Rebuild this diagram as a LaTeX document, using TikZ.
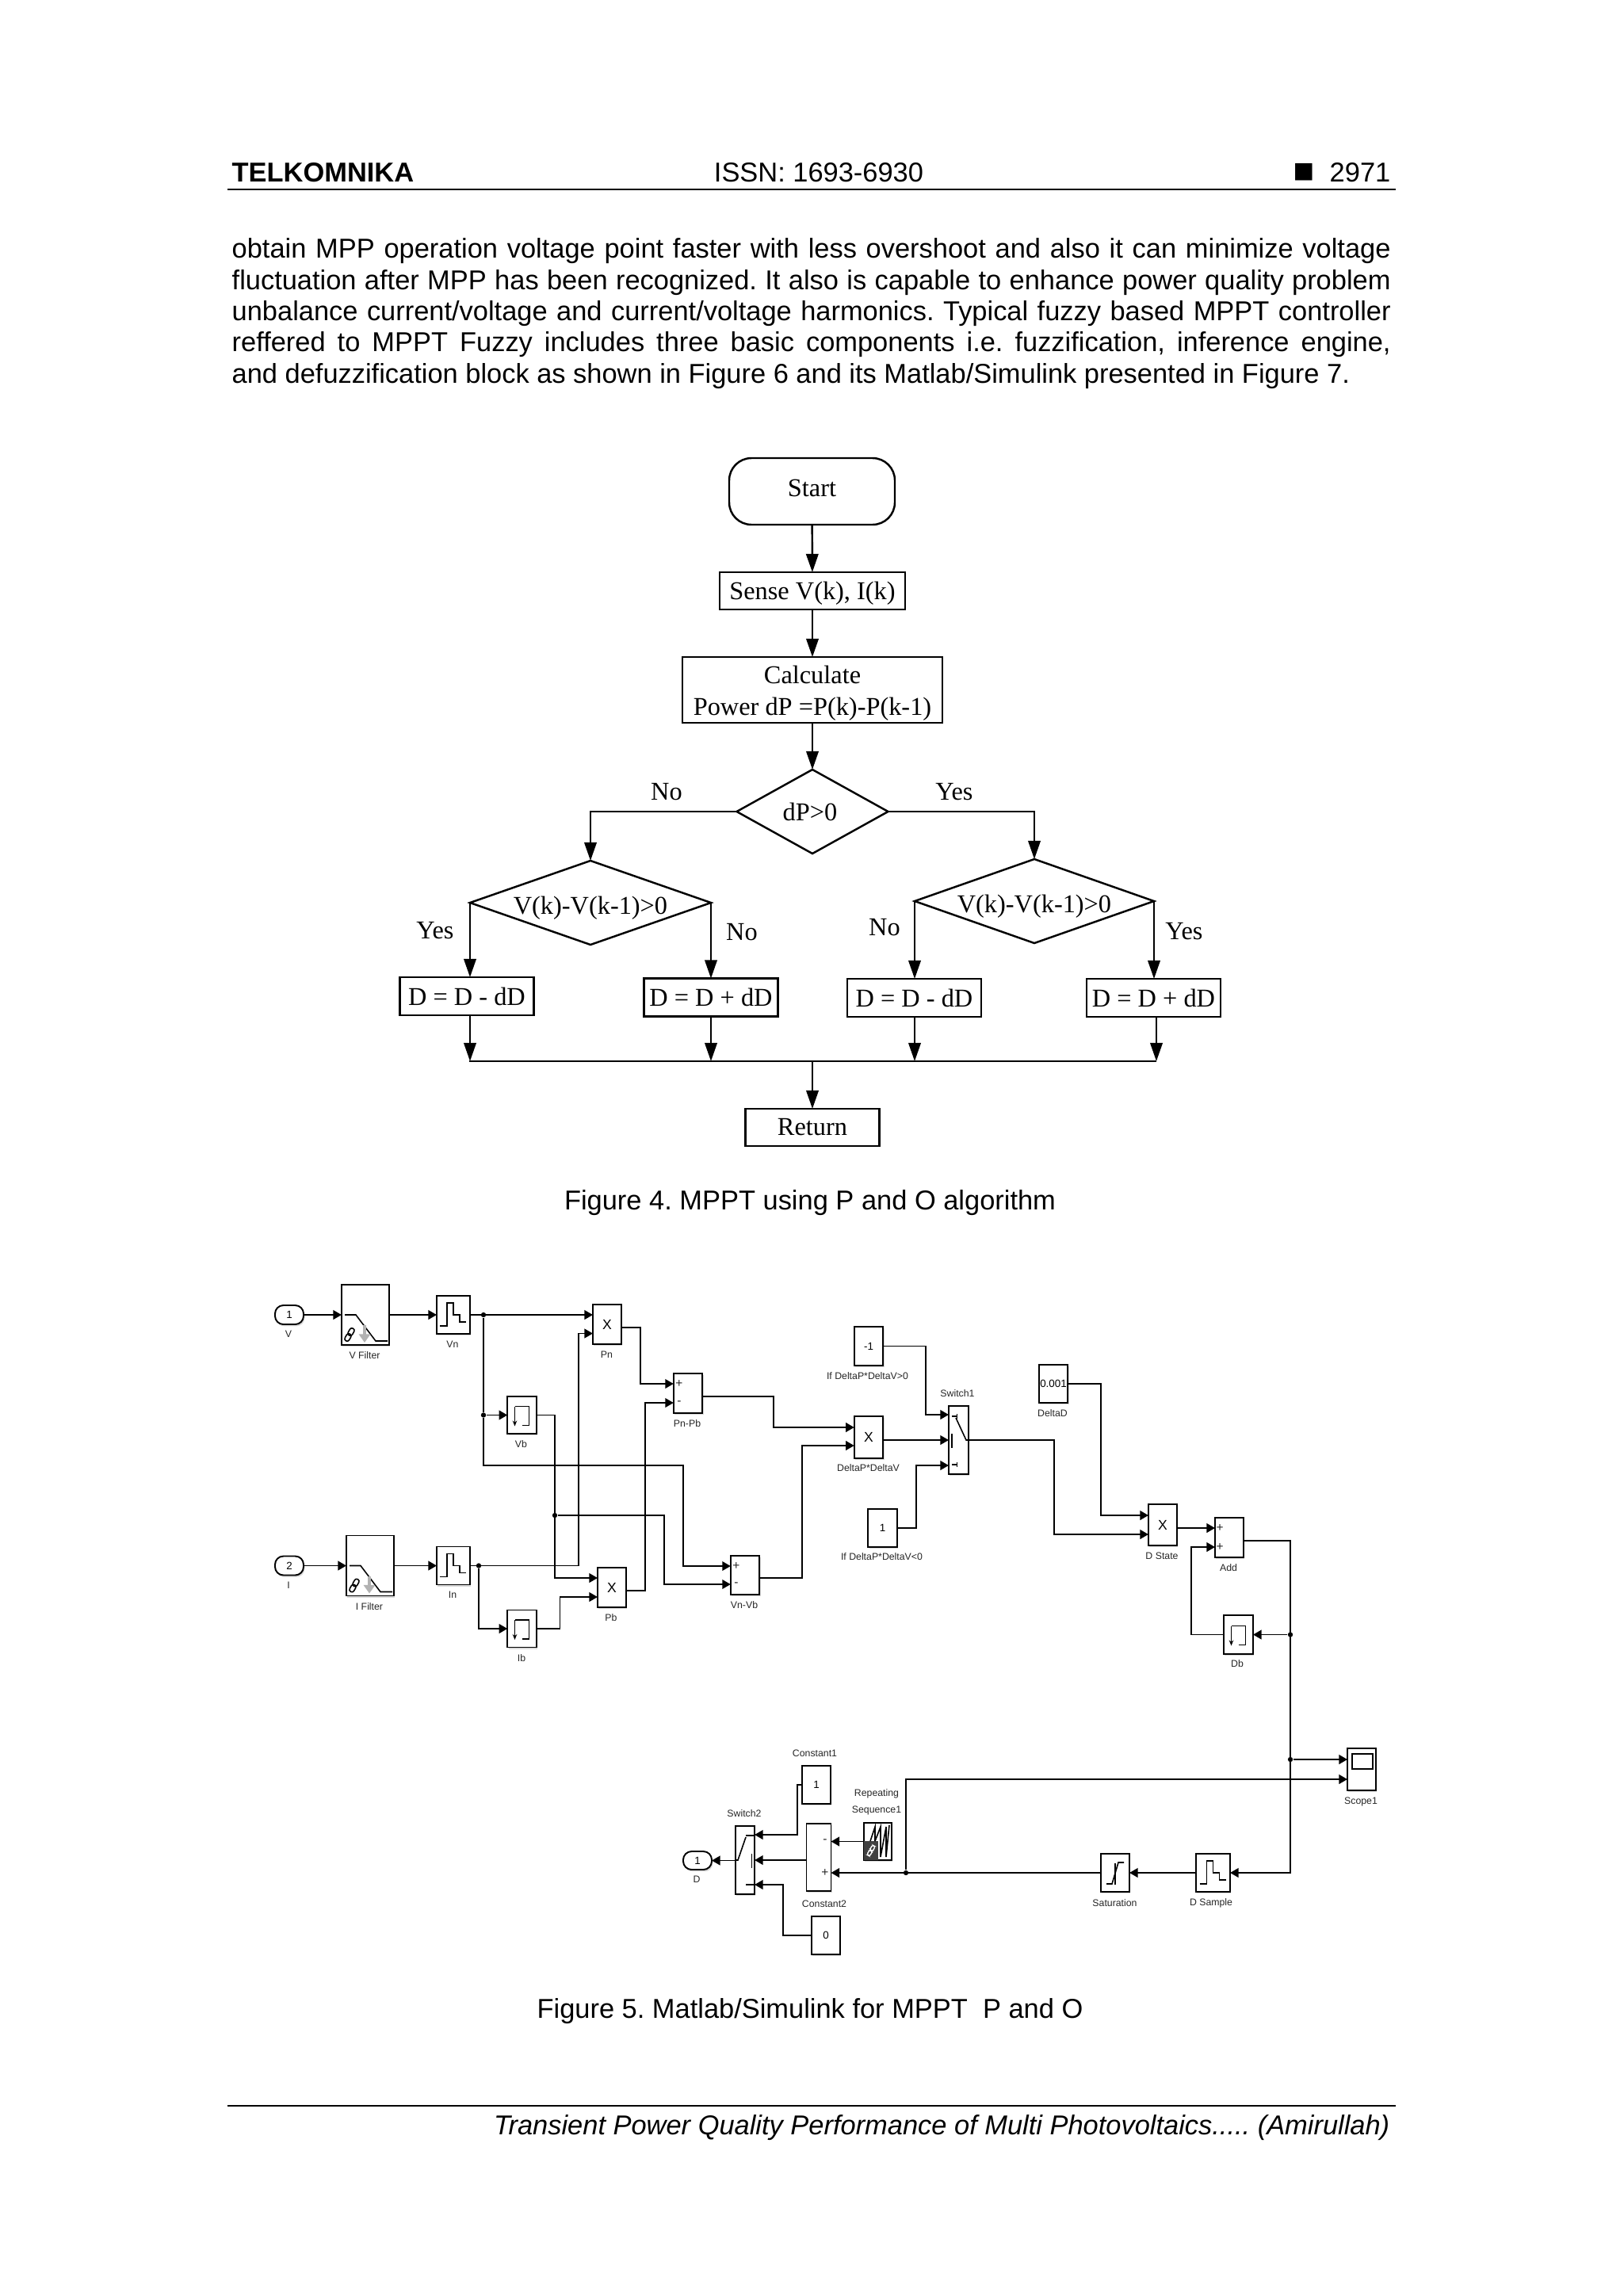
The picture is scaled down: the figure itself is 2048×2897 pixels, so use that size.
\documentclass[tikz,border=0pt]{standalone}
\usepackage{fontspec}
\setmainfont{Liberation Sans}
\newfontfamily\serifface{Liberation Serif}
\newfontfamily\symbface{DejaVu Sans}
\usetikzlibrary{shapes.geometric, arrows.meta, positioning, shadows}
\frenchspacing
\tikzset{
    flowline/.style={line width=0.7pt, -{Triangle[length=6.6pt,width=4.4pt]}},
    flowbare/.style={line width=0.7pt},
    flowbox/.style={draw, line width=0.7pt, inner sep=0pt, outer sep=0pt, align=center},
    flowfont/.style={font=\serifface\fontsize{9.2}{11.4}\selectfont},
    flowdec/.style={flowbox, diamond},
    sz/.style 2 args={minimum width=#1*0.01cm, minimum height=#2*0.01cm},
    block/.style={draw, line width=0.55pt, fill=white, inner sep=0pt, outer sep=0pt,
        font=\fontsize{3.8}{4.5}\selectfont,
        drop shadow={shadow xshift=0.4pt, shadow yshift=-0.7pt, opacity=0.3}},
    wire/.style={line width=0.55pt, -{Triangle[length=3pt,width=3.3pt]}},
    wirebare/.style={line width=0.55pt},
    dotnode/.style={circle, fill, inner sep=0pt, minimum size=1.8pt},
    blocklabel/.style={font=\fontsize{3.5}{4.2}\selectfont, text=black!85, inner sep=0pt},
    bodytext/.style={font=\fontsize{9.79}{11.2}\selectfont, inner sep=0pt},
    icon/.style={line width=0.45pt},
    pics/zohicon/.style={code={
        \draw[icon] (-17,14) -- (-8,14) -- (-8,-15) -- (0,-15) -- (0,0) -- (8,0) -- (8,9) -- (16,9);}},
    pics/delayicon/.style={code={
        \draw[icon] (0,13) -- (9,13) -- (9,-11) -- (-9,-11);
        \draw[icon, -{Stealth[length=2pt,width=1.6pt]}] (-9,-11) -- (-9,14);}},
    pics/filtericon/.style={code={
        \draw[icon] (-26,0) -- (-12,0) -- (13,33) -- (28,33);
        \draw[line width=1pt, black!30, -{Triangle[length=3pt,width=4pt]}] (-1,13) -- (-1,35);
        \draw[icon, shift={(-20,25)}, rotate=60, rounded corners=0.8pt] (-9,-3) rectangle (1,3);
        \draw[icon, shift={(-20,25)}, rotate=60, rounded corners=0.8pt] (-1,-3) rectangle (9,3);}},
}
\begin{document}
\begin{tikzpicture}[x=0.01cm, y=-0.01cm]
    \useasboundingbox (0,0) rectangle (2048,2897);
    % page text
    \node[bodytext, anchor=west, font=\bfseries\fontsize{9.79}{11.2}\selectfont] (hleft) at (292,218) {TELKOMNIKA};
    \node[bodytext] (hmid) at (1033,218) {ISSN: 1693-6930};
    \node[bodytext, anchor=east] (hright) at (1755,218) {2971};
    \node[bodytext, font=\symbface\fontsize{8}{9}\selectfont] (hmark) at (1645,217) {■};
    \coordinate (htl) at (287,239);
    \coordinate (htr) at (1761,239);
    \draw[line width=0.4pt] (htl) -- (htr);
    \node[bodytext, anchor=north west, text width=1462*0.01cm, align=justify] (para) at (292,300) {\sloppy obtain MPP operation voltage point faster with less overshoot and also it can minimize voltage\linebreak fluctuation after MPP has been recognized. It also is capable to enhance power quality problem\linebreak unbalance current/voltage and current/voltage harmonics. Typical fuzzy based MPPT controller\linebreak reffered to MPPT Fuzzy includes three basic components i.e. fuzzification, inference engine,\linebreak and defuzzification block as shown in Figure 6 and its Matlab/Simulink presented in Figure 7.};
    \node[bodytext] (cap4) at (1022,1518) {Figure 4. MPPT using P and O algorithm};
    \node[bodytext] (cap5) at (1022,2538) {Figure 5. Matlab/Simulink for MPPT\ \ P and O};
    \coordinate (ftl) at (287,2657);
    \coordinate (ftr) at (1761,2657);
    \draw[line width=0.4pt] (ftl) -- (ftr);
    \node[bodytext, anchor=east, font=\itshape\fontsize{9.79}{11.2}\selectfont] (foot) at (1754,2685) {Transient Power Quality Performance of Multi Photovoltaics..... (Amirullah)};

    % flowchart
    \node[flowbox, flowfont, sz={209}{84}, rounded corners=8pt] (start) at (1024.5,620) {\raisebox{0.6pt}[7pt][2pt]{Start}};
    \node[flowbox, flowfont, sz={234}{47}] (sense) at (1025,745.5) {\raisebox{-0.5pt}[7pt][2pt]{Sense V(k), I(k)}};
    \node[flowbox, flowfont, sz={328}{83}] (calc) at (1025,870.5) {\rule{0pt}{9pt}Calculate\\Power dP =P(k)-P(k-1)};
    \node[flowdec, flowfont, sz={191}{106}, shape aspect=1.8] (dpzero) at (1025,1024) {dP>0\hspace{1.7pt}};
    \node[flowdec, flowfont, sz={304}{106}, shape aspect=2.87] (ldec) at (745,1139) {\raisebox{-1.5pt}[7pt][2pt]{V(k)-V(k-1)>0}};
    \node[flowdec, flowfont, sz={302}{106}, shape aspect=2.85] (rdec) at (1305,1137) {\raisebox{-1.5pt}[7pt][2pt]{V(k)-V(k-1)>0}};
    \node[flowbox, flowfont, sz={169}{48}] (lminus) at (589,1257) {D = D - dD};
    \node[flowbox, flowfont, sz={169}{48}] (lplus) at (897,1258.5) {D = D + dD};
    \node[flowbox, flowfont, sz={169}{48}] (rminus) at (1153.5,1259) {D = D - dD};
    \node[flowbox, flowfont, sz={169}{48}] (rplus) at (1455.5,1259) {D = D + dD};
    \node[flowbox, flowfont, sz={169}{47}] (ret) at (1025,1422.5) {Return};
    \coordinate (busl) at (592,1339);
    \coordinate (busr) at (1459,1339);
    \draw[flowline] (start) -- (sense);
    \draw[flowline] (sense) -- (calc);
    \draw[flowline] (calc) -- (dpzero);
    \draw[flowline] (dpzero.west) -| (ldec.north);
    \draw[flowline] (dpzero.east) -| (rdec.north);
    \draw[flowline] (ldec.west) -- (ldec.west |- lminus.north);
    \draw[flowline] (ldec.east) -- (ldec.east |- lplus.north);
    \draw[flowline] (rdec.west) -- (rdec.west |- rminus.north);
    \draw[flowline] (rdec.east) -- (rdec.east |- rplus.north);
    \draw[flowline] (ldec.west |- lminus.south) -- (ldec.west |- busl);
    \draw[flowline] (ldec.east |- lplus.south) -- (ldec.east |- busl);
    \draw[flowline] (rdec.west |- rminus.south) -- (rdec.west |- busl);
    \draw[flowline] (busr |- rplus.south) -- (busr);
    \draw[flowbare] (busl) -- (busr);
    \draw[flowline] (ret.north |- busl) -- (ret.north);
    \node[flowfont, inner sep=0pt] (nomain) at (841,999) {No};
    \node[flowfont, inner sep=0pt] (yesmain) at (1204,999) {Yes};
    \node[flowfont, inner sep=0pt] (yesl) at (549,1174) {Yes};
    \node[flowfont, inner sep=0pt] (nol) at (936,1176) {No};
    \node[flowfont, inner sep=0pt] (nor) at (1116,1170) {No};
    \node[flowfont, inner sep=0pt] (yesr) at (1494,1175) {Yes};

    % simulink model, left part
    \node[block, sz={36}{24}, rounded corners=3pt] (vport) at (365,1659) {1};
    \node[block, sz={36}{24}, rounded corners=3pt] (iport) at (365,1975.5) {2};
    \node[block, sz={60}{76}] (vfilt) at (461,1659) {};
    \node[block, sz={60}{76}] (ifilt) at (467,1975.5) {};
    \node[block, sz={42}{48}] (vnzoh) at (572,1659) {};
    \node[block, sz={42}{48}] (inzoh) at (572,1975.5) {};
    \node[block, sz={36.5}{47}] (vbdel) at (658.5,1785.5) {};
    \node[block, sz={36.5}{47}] (ibdel) at (658.5,2055) {};
    \node[block, sz={36}{50}, font=\fontsize{5}{6}\selectfont] (pnmul) at (766,1671) {X};
    \node[block, sz={36}{50}, font=\fontsize{5}{6}\selectfont] (pbmul) at (772,2003) {X};
    \node[block, sz={36.5}{50}] (ppsum) at (868,1758) {};
    \node[block, sz={36.5}{49}] (vvsum) at (940,1987.5) {};
    \pic at (vfilt) {filtericon};
    \pic at (ifilt) {filtericon};
    \pic at (vnzoh) {zohicon};
    \pic at (inzoh) {zohicon};
    \pic at (vbdel) {delayicon};
    \pic at (ibdel) {delayicon};
    \node[blocklabel, font=\fontsize{4.4}{5}\selectfont] (pp1s) at (857,1746) {+};
    \node[blocklabel, font=\fontsize{4.4}{5}\selectfont] (pp2s) at (857,1770) {-};
    \node[blocklabel, font=\fontsize{4.4}{5}\selectfont] (vv1s) at (929,1976) {+};
    \node[blocklabel, font=\fontsize{4.4}{5}\selectfont] (vv2s) at (929,1999) {-};
    \node[blocklabel] (lbv) at (364,1683) {V};
    \node[blocklabel] (lbi) at (364,2000) {I};
    \node[blocklabel] (lbvf) at (460,1710) {V Filter};
    \node[blocklabel] (lbif) at (466,2027) {I Filter};
    \node[blocklabel] (lbvn) at (571,1696) {Vn};
    \node[blocklabel] (lbin) at (571,2012.5) {In};
    \node[blocklabel] (lbvb) at (657.5,1822.5) {Vb};
    \node[blocklabel] (lbib) at (658,2092) {Ib};
    \node[blocklabel] (lbpn) at (765.5,1709) {Pn};
    \node[blocklabel] (lbpb) at (771,2041) {Pb};
    \node[blocklabel] (lbpp) at (867,1796) {Pn-Pb};
    \node[blocklabel] (lbvv) at (939,2025) {Vn-Vb};
    \coordinate (pn1) at (748,1659);
    \coordinate (pn2) at (748,1682.5);
    \coordinate (pb1) at (754,1991);
    \coordinate (pb2) at (754,2015);
    \coordinate (pp1) at (849.8,1746);
    \coordinate (pp2) at (849.8,1770);
    \coordinate (vv1) at (921.8,1976);
    \coordinate (vv2) at (921.8,1999);
    \coordinate (ppout) at (886.3,1762);
    \coordinate (vvout) at (958.3,1991);
    \coordinate (pbout) at (790,2007);
    \coordinate (pnout) at (784,1675);
    \node[dotnode] (vndot) at (610,1659) {};
    \node[dotnode] (vbdot) at (610,1785.5) {};
    \node[dotnode] (nbdot) at (700,1912) {};
    \node[dotnode] (indot) at (604,1975.5) {};
    \draw[wire] (vport) -- (vfilt);
    \draw[wire] (iport) -- (ifilt);
    \draw[wire] (vfilt) -- (vnzoh);
    \draw[wire] (ifilt) -- (inzoh);
    \draw[wire] (vnzoh.east) -- (pn1);
    \draw[wire] (vbdot) -- (vbdel.west);
    \draw[wirebare] (vndot) -- (vbdot);
    \draw[wire] (vbdot) -- (610,1849) -- (862,1849) |- (vv1);
    \draw[wire] (inzoh.east) -- (730,1975.5) |- (pn2);
    \draw[wire] (indot) |- (ibdel.west);
    \draw[wire] (vbdel.east) -- (700,1785.5) |- (pb1);
    \draw[wire] (nbdot) -- (838,1912) |- (vv2);
    \draw[wire] (ibdel.east) -- (706.5,2055) |- (pb2);
    \draw[wire] (pnout) -- (808,1675) |- (pp1);
    \draw[wire] (pbout) -- (814,2007) |- (pp2);

    % simulink model, switch and duty update
    \node[block, sz={36.5}{49}] (cneg) at (1096,1698.5) {-1};
    \node[block, sz={36.5}{53}, font=\fontsize{5}{6}\selectfont] (dlmul) at (1096,1813.5) {X};
    \node[block, sz={36.5}{48}] (cpos) at (1113.5,1928) {1};
    \node[block, sz={25}{86}] (swone) at (1209.5,1817) {};
    \node[block, sz={36.5}{48}] (ddelta) at (1329,1746) {0.001};
    \node[block, sz={36}{52}, font=\fontsize{5}{6}\selectfont] (dsmul) at (1467,1924) {X};
    \node[block, sz={36}{50}] (addsum) at (1551,1940) {};
    \node[block, sz={37}{49}] (dbdel) at (1562.5,2062.5) {};
    \pic at (dbdel) {delayicon};
    \draw[icon] (1201,1787) -- (1207.5,1787);
    \draw[icon] (1207.5,1784) -- (1207.5,1790);
    \draw[icon] (1201,1848) -- (1207.5,1848);
    \draw[icon] (1207.5,1845) -- (1207.5,1851);
    \draw[icon] (1201,1809) -- (1201,1827);
    \draw[icon] (1206,1789) -- (1219,1817) -- (1222,1817);
    \node[blocklabel, font=\fontsize{4.4}{5}\selectfont] (ad1s) at (1539,1928) {+};
    \node[blocklabel, font=\fontsize{4.4}{5}\selectfont] (ad2s) at (1539,1952) {+};
    \node[blocklabel] (lbcneg) at (1094.5,1736) {If DeltaP*DeltaV>0};
    \node[blocklabel] (lbdl) at (1095.5,1852) {DeltaP*DeltaV};
    \node[blocklabel] (lbcpos) at (1112.5,1964) {If DeltaP*DeltaV<0};
    \node[blocklabel] (lbswone) at (1208,1758) {Switch1};
    \node[blocklabel] (lbdd) at (1328,1783) {DeltaD};
    \node[blocklabel] (lbds) at (1466,1963) {D State};
    \node[blocklabel] (lbadd) at (1550,1978) {Add};
    \node[blocklabel] (lbdb) at (1561,2099) {Db};
    \coordinate (dl1) at (1077.7,1801);
    \coordinate (dl2) at (1077.7,1824);
    \coordinate (dlout) at (1114.3,1817);
    \coordinate (sw11) at (1197,1785);
    \coordinate (sw12) at (1197,1817);
    \coordinate (sw13) at (1197,1849);
    \coordinate (swout) at (1222,1817);
    \coordinate (ds1) at (1449,1912);
    \coordinate (ds2) at (1449,1936);
    \coordinate (dsout) at (1485,1928);
    \coordinate (ad1) at (1533,1928);
    \coordinate (ad2) at (1533,1952);
    \coordinate (adout) at (1569,1944);
    \draw[wire] (ppout) -- (976,1762) |- (dl1);
    \draw[wire] (vvout) -- (1012,1991) |- (dl2);
    \draw[wire] (cneg.east) -- (1167.7,1698.5) |- (sw11);
    \draw[wire] (dlout) -- (sw12);
    \draw[wire] (cpos.east) -- (1155.6,1928) |- (sw13);
    \draw[wire] (swout) -- (1329.6,1817) |- (ds2);
    \draw[wire] (ddelta.east) -- (1389,1746) |- (ds1);
    \draw[wire] (dsout) -- (ad1);
    \draw[wire] (dbdel.west) -- (1503,2062.5) |- (ad2);

    % simulink model, output part
    \node[block, sz={36}{23}, rounded corners=3pt] (dport) at (880,2347.5) {1};
    \node[block, sz={24}{86}] (swtwo) at (940,2347) {};
    \node[block, sz={31}{85}] (sumblk) at (1033,2343.5) {};
    \node[block, sz={36}{48}] (cone) at (1030,2252) {1};
    \node[block, sz={36}{48}] (czero) at (1042,2442) {0};
    \node[block, sz={35}{47}] (rseq) at (1107.5,2323.5) {};
    \node[block, sz={36}{48}] (sat) at (1407,2363) {};
    \node[block, sz={43}{48}] (dsmp) at (1530.5,2363) {};
    \node[block, sz={36}{53}] (scope) at (1718,2232.5) {};
    \pic at (dsmp) {zohicon};
    \fill[black!75] (1090,2323) rectangle (1108,2347);
    \draw[white, line width=0.4pt, shift={(1099,2335)}, rotate=60, rounded corners=0.6pt] (-7,-2) rectangle (0.5,2) (-0.5,-2) rectangle (7,2);
    \draw[icon] (1098,2323) -- (1104,2305) -- (1104,2323);
    \draw[icon] (1104,2323) -- (1111,2305) -- (1111,2343) -- (1118,2305) -- (1118,2343) -- (1122,2303);
    \draw[icon] (1396,2377) -- (1403,2377) -- (1411,2350) -- (1418,2350);
    \draw[icon] (1407,2351) -- (1407,2378);
    \draw[icon] (1706,2213) rectangle (1732,2232);
    \draw[icon] (941,2316) -- (952,2316);
    \draw[icon] (941,2378) -- (952,2378);
    \draw[icon] (948.5,2339) -- (948.5,2357);
    \draw[icon] (941,2318) -- (931,2347) -- (928,2347);
    \node[blocklabel, font=\fontsize{4.4}{5}\selectfont] (sum1s) at (1041,2323) {-};
    \node[blocklabel, font=\fontsize{4.4}{5}\selectfont] (sum2s) at (1041,2363) {+};
    \node[blocklabel] (lbd) at (879,2371) {D};
    \node[blocklabel] (lbswtwo) at (939,2288) {Switch2};
    \node[blocklabel] (lbcone) at (1028,2212) {Constant1};
    \node[blocklabel] (lbctwo) at (1040,2402) {Constant2};
    \node[blocklabel] (lbrs) at (1106,2263) {Repeating};
    \node[blocklabel] (lbrstwo) at (1106,2284) {Sequence1};
    \node[blocklabel] (lbsat) at (1406.5,2401) {Saturation};
    \node[blocklabel] (lbdsmp) at (1528,2401) {D Sample};
    \node[blocklabel] (lbscope) at (1717,2273) {Scope1};
    \coordinate (sw21) at (952,2315);
    \coordinate (sw22) at (952,2347);
    \coordinate (sw23) at (952,2378);
    \coordinate (swtout) at (928,2347.5);
    \coordinate (sum1) at (1048.5,2323.5);
    \coordinate (sum2) at (1048.5,2363);
    \coordinate (sumout) at (1017.5,2347);
    \coordinate (sc1) at (1700,2220);
    \coordinate (sc2) at (1700,2245);
    \node[dotnode] (dbdot) at (1628,2062.5) {};
    \node[dotnode] (scdot) at (1628,2220) {};
    \node[dotnode] (sumdot) at (1143,2363) {};
    \draw[wire] (adout) -- (1628,1944) -- (1628,2363) -- (dsmp.east);
    \draw[wire] (dbdot) -- (dbdel.east);
    \draw[wire] (scdot) -- (sc1);
    \draw[wire] (sumdot) -- (1143,2245) -- (sc2);
    \draw[wire] (dsmp.west) -- (sat.east);
    \draw[wire] (sat.west) -- (sum2);
    \draw[wire] (rseq.west) -- (sum1);
    \draw[wire] (sumout) -- (sw22);
    \draw[wire] (cone.west) -- (1006,2252) |- (sw21);
    \draw[wire] (czero.west) -- (988,2442) |- (sw23);
    \draw[wire] (swtout) -- (dport.east);
\end{tikzpicture}
\end{document}
